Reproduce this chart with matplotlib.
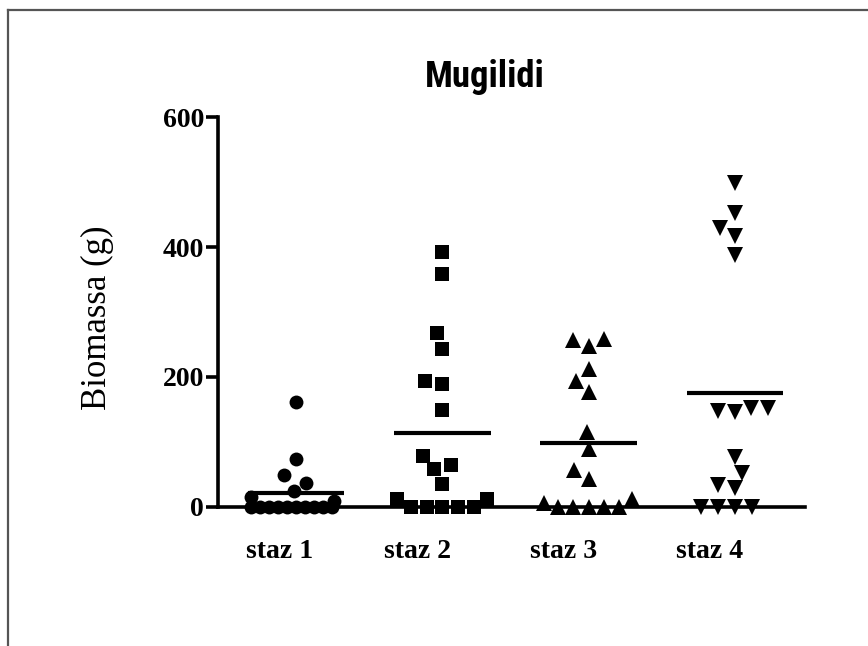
import matplotlib
matplotlib.use("Agg")
import matplotlib.pyplot as plt
from matplotlib.lines import Line2D
import numpy as np

# biomass (g) per station
staz1 = [162, 74, 49, 37, 25, 15, 10, 0, 0, 0, 0, 0, 0, 0, 0, 0, 0]
staz2 = [393, 358, 268, 243, 194, 190, 150, 78, 65, 58, 35, 13, 13, 0, 0, 0, 0, 0]
staz3 = [259, 257, 248, 213, 194, 177, 116, 90, 57, 43, 13, 6, 0, 0, 0, 0, 0]
staz4 = [498, 452, 429, 417, 388, 152, 152, 147, 146, 77, 53, 34, 29, 0, 0, 0, 0]

groups = [staz1, staz2, staz3, staz4]
labels = ["staz 1", "staz 2", "staz 3", "staz 4"]
markers = ["o", "s", "^", "v"]
msizes = [10, 9.5, 11, 11]

W, H, DPI = 868, 646, 100
fig = plt.figure(figsize=(W / DPI, H / DPI), dpi=DPI)
ax = fig.add_axes([218 / W, 139 / H, 587 / W, 390 / H])
xlim = (0.467, 4.479)
ylim = (0, 600)
ax.set_xlim(*xlim)
ax.set_ylim(*ylim)

xpx = 587 / (xlim[1] - xlim[0])
ypx = 390 / (ylim[1] - ylim[0])


def swarm(vals, d=17.0, maxhalf=45.0):
    """beeswarm offsets in pixels; rows wider than maxhalf get squeezed
    (roughly what the GraphPad column scatter does)"""
    ys = np.asarray(vals, float) * ypx
    order = np.argsort(ys, kind="stable")
    px, py = [], []
    out = np.zeros(len(ys))

    def clear(c, y):
        return all((c - x0) ** 2 + (y - y0) ** 2 >= d * d - 1e-6
                   for x0, y0 in zip(px, py))

    for i in order:
        y = ys[i]
        cands = [0.0]
        for x0, y0 in zip(px, py):
            dy = abs(y - y0)
            if dy < d:
                dx = np.sqrt(d * d - dy * dy)
                cands += [x0 - dx, x0 + dx]
        cands.sort(key=lambda c: (round(abs(c), 3), c))
        c = next(c for c in cands if clear(c, y))
        px.append(c)
        py.append(y)
        out[i] = c

    res = out.copy()
    for i in range(len(ys)):
        row = np.abs(ys - ys[i]) < d / 2
        w = np.abs(out[row]).max()
        if w > maxhalf:
            res[i] = out[i] * maxhalf / w
    return res


for k, vals in enumerate(groups):
    pos = k + 1
    offs = swarm(vals) / xpx
    ax.plot(pos + offs, vals, linestyle="none", marker=markers[k],
            markersize=msizes[k], color="black", markeredgewidth=0,
            clip_on=False, zorder=3)
    ax.hlines(np.mean(vals), pos - 0.33, pos + 0.33, color="black",
              linewidth=3, zorder=4)

for s in ["top", "right"]:
    ax.spines[s].set_visible(False)
ax.spines["left"].set_linewidth(2.6)
ax.spines["bottom"].set_linewidth(2.6)

ax.set_yticks([0, 200, 400, 600])
ax.tick_params(axis="y", length=9, width=2.6, pad=1)
ax.tick_params(axis="x", length=0, pad=23)
ax.set_xticks([0.89, 1.83, 2.83, 3.83])
ax.set_xticklabels(labels)
for t in ax.get_xticklabels() + ax.get_yticklabels():
    t.set_family("Liberation Serif")
    t.set_weight("bold")
    t.set_fontsize(20)

fig.text(0.112, 0.508, "Biomassa (g)", rotation=90, ha="center", va="center",
         family="Liberation Serif", fontsize=25)
fig.text(0.559, 0.881, "Mugilidi", ha="center", va="center",
         family=["Roboto Condensed", "DejaVu Sans"], stretch="condensed",
         weight="heavy", fontsize=26.5)

# outer frame (top and left edges only)
fig.add_artist(Line2D([7.5 / W, 1], [1 - 10 / H, 1 - 10 / H],
                      transform=fig.transFigure, color="#555555", linewidth=1.6))
fig.add_artist(Line2D([7.5 / W, 7.5 / W], [0, 1 - 10 / H],
                      transform=fig.transFigure, color="#555555", linewidth=1.6))

fig.savefig("out.png", dpi=DPI)
plt.close(fig)
